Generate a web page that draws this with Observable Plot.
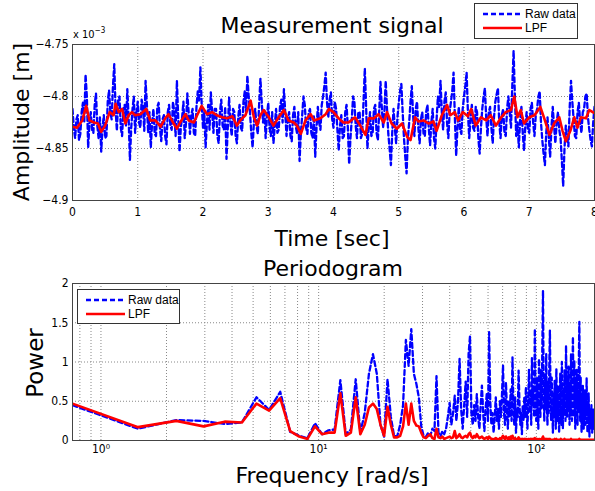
<!DOCTYPE html>
<html><head><meta charset="utf-8">
<script src="https://cdn.jsdelivr.net/npm/d3@7"></script>
<script src="https://cdn.jsdelivr.net/npm/@observablehq/plot@0.6"></script>
<style>
body{margin:0;background:#fff;}
#root{position:relative;width:595px;height:491px;overflow:hidden;background:#fff;}
#root > svg{position:absolute;left:0;}
</style>
</head><body><div id="root"></div>
<script>
// ---------- Measurement signal (amplitude in units of 1e-3 m) ----------
const dt = 0.02; // sample spacing of the raw series [sec]
const rawAmp = [
-4.812,-4.830,-4.840,-4.822,-4.818,-4.842,-4.836,-4.815,-4.806,-4.825,-4.779,-4.800,-4.849,-4.826,-4.815,-4.832,-4.835,-4.808,-4.797,-4.828,
-4.840,-4.820,-4.853,-4.830,-4.818,-4.840,-4.838,-4.805,-4.794,-4.815,-4.822,-4.790,-4.769,-4.812,-4.833,-4.803,-4.800,-4.830,-4.838,-4.812,
-4.808,-4.828,-4.793,-4.820,-4.861,-4.830,-4.812,-4.800,-4.835,-4.815,-4.805,-4.825,-4.830,-4.803,-4.810,-4.833,-4.785,-4.808,-4.835,-4.815,
-4.849,-4.825,-4.812,-4.836,-4.838,-4.810,-4.806,-4.830,-4.843,-4.822,-4.818,-4.838,-4.846,-4.815,-4.808,-4.828,-4.832,-4.805,-4.815,-4.838,
-4.785,-4.820,-4.853,-4.830,-4.820,-4.805,-4.840,-4.825,-4.797,-4.815,-4.836,-4.818,-4.812,-4.835,-4.838,-4.810,-4.795,-4.805,-4.772,-4.808,
-4.830,-4.815,-4.849,-4.825,-4.808,-4.832,-4.796,-4.815,-4.835,-4.812,-4.812,-4.838,-4.845,-4.815,-4.803,-4.828,-4.832,-4.810,-4.860,-4.830,
-4.801,-4.825,-4.838,-4.812,-4.815,-4.838,-4.845,-4.820,-4.808,-4.830,-4.833,-4.805,-4.795,-4.815,-4.780,-4.800,-4.815,-4.835,-4.849,-4.825,
-4.812,-4.828,-4.836,-4.808,-4.783,-4.805,-4.825,-4.812,-4.840,-4.820,-4.806,-4.830,-4.838,-4.815,-4.845,-4.828,-4.812,-4.835,-4.832,-4.810,
-4.803,-4.825,-4.793,-4.815,-4.838,-4.822,-4.815,-4.838,-4.843,-4.818,-4.810,-4.828,-4.835,-4.815,-4.862,-4.835,-4.818,-4.800,-4.808,-4.830,
-4.836,-4.815,-4.812,-4.835,-4.840,-4.818,-4.858,-4.830,-4.810,-4.825,-4.832,-4.808,-4.800,-4.790,-4.777,-4.805,-4.820,-4.803,-4.796,-4.822,
-4.830,-4.805,-4.812,-4.832,-4.852,-4.828,-4.818,-4.840,-4.838,-4.815,-4.808,-4.830,-4.865,-4.840,-4.822,-4.800,-4.805,-4.828,-4.840,-4.815,
-4.815,-4.840,-4.836,-4.805,-4.773,-4.810,-4.850,-4.830,-4.815,-4.838,-4.835,-4.812,-4.808,-4.835,-4.842,-4.815,-4.786,-4.810,-4.830,-4.815,
-4.785,-4.812,-4.836,-4.850,-4.866,-4.835,-4.812,-4.830,-4.845,-4.820,-4.806,-4.795,-4.788,-4.815,-4.840,-4.858,-4.874,-4.840,-4.825,-4.805,
-4.790,-4.818,-4.838,-4.812,-4.805,-4.830,-4.845,-4.822,-4.815,-4.836,-4.838,-4.815,-4.808,-4.830,-4.847,-4.825,-4.812,-4.840,-4.850,-4.822,
-4.800,-4.810,-4.785,-4.815,-4.832,-4.805,-4.796,-4.825,-4.840,-4.815,-4.805,-4.795,-4.777,-4.820,-4.857,-4.830,-4.810,-4.832,-4.836,-4.812,
-4.800,-4.790,-4.777,-4.815,-4.840,-4.822,-4.808,-4.830,-4.833,-4.810,-4.815,-4.840,-4.855,-4.830,-4.812,-4.800,-4.792,-4.820,-4.838,-4.815,
-4.810,-4.830,-4.845,-4.820,-4.805,-4.798,-4.792,-4.825,-4.840,-4.818,-4.812,-4.835,-4.838,-4.812,-4.800,-4.815,-4.830,-4.790,-4.756,-4.800,
-4.838,-4.825,-4.849,-4.822,-4.810,-4.835,-4.852,-4.828,-4.815,-4.832,-4.835,-4.812,-4.806,-4.825,-4.838,-4.818,-4.812,-4.800,-4.795,-4.825,
-4.842,-4.855,-4.866,-4.835,-4.820,-4.840,-4.858,-4.830,-4.810,-4.828,-4.845,-4.825,-4.815,-4.832,-4.840,-4.862,-4.886,-4.850,-4.828,-4.840,
-4.848,-4.810,-4.785,-4.805,-4.822,-4.838,-4.840,-4.815,-4.806,-4.825,-4.835,-4.815,-4.812,-4.800,-4.797,-4.820,-4.832,-4.842,-4.848,-4.825,
-4.810
];
const lpfTime = [0,0.07,0.15,0.21,0.26,0.33,0.39,0.44,0.50,0.57,0.63,0.66,0.71,0.76,0.81,0.86,0.91,0.96,1.04,1.13,1.19,1.27,1.35,1.42,1.47,1.55,1.60,1.65,1.73,1.78,1.86,1.91,1.98,2.06,2.14,2.21,2.29,2.37,2.45,2.52,2.57,2.65,2.73,2.78,2.83,2.88,2.93,3.01,3.08,3.16,3.24,3.31,3.39,3.44,3.50,3.57,3.65,3.70,3.80,3.88,3.93,4.00,4.08,4.15,4.23,4.33,4.41,4.49,4.54,4.62,4.69,4.77,4.82,4.89,4.97,5.05,5.13,5.18,5.25,5.30,5.38,5.46,5.53,5.58,5.66,5.74,5.79,5.86,5.91,5.98,6.06,6.11,6.18,6.26,6.34,6.41,6.49,6.57,6.64,6.72,6.77,6.82,6.87,6.92,7.00,7.08,7.17,7.23,7.31,7.38,7.46,7.51,7.56,7.63,7.69,7.74,7.79,7.87,7.92,8.00];
const lpfAmp = [-4.829,-4.830,-4.823,-4.809,-4.823,-4.825,-4.826,-4.834,-4.828,-4.815,-4.818,-4.807,-4.815,-4.812,-4.826,-4.818,-4.815,-4.818,-4.817,-4.812,-4.823,-4.823,-4.829,-4.821,-4.817,-4.826,-4.831,-4.825,-4.817,-4.823,-4.825,-4.818,-4.809,-4.817,-4.815,-4.818,-4.820,-4.821,-4.819,-4.828,-4.823,-4.818,-4.804,-4.820,-4.828,-4.818,-4.813,-4.820,-4.828,-4.820,-4.813,-4.823,-4.825,-4.828,-4.836,-4.823,-4.817,-4.823,-4.821,-4.817,-4.812,-4.815,-4.821,-4.825,-4.825,-4.820,-4.828,-4.837,-4.821,-4.821,-4.817,-4.825,-4.815,-4.826,-4.831,-4.826,-4.839,-4.842,-4.820,-4.824,-4.823,-4.826,-4.824,-4.833,-4.818,-4.808,-4.818,-4.815,-4.823,-4.815,-4.819,-4.812,-4.828,-4.820,-4.823,-4.818,-4.828,-4.820,-4.815,-4.813,-4.800,-4.820,-4.813,-4.826,-4.820,-4.818,-4.810,-4.821,-4.837,-4.826,-4.820,-4.833,-4.843,-4.833,-4.820,-4.830,-4.820,-4.821,-4.813,-4.816];
const timeTicks = [0,1,2,3,4,5,6,7,8];
const ampTicks = [-4.9,-4.85,-4.8,-4.75];

// ---------- Periodogram ----------
const df = 0.74; // frequency resolution [rad/s]; bin k is at k*df
const rawPower = [
0.45,0.15,0.26,0.25,0.21,0.23,0.55,0.39,0.62,0.11,
0.06,0.03,0.22,0.08,0.13,0.14,0.77,0.08,0.14,0.78,
0.10,0.35,0.85,1.10,0.85,0.20,0.05,0.78,0.30,0.06,
0.05,0.20,0.45,1.28,0.95,1.42,0.85,0.72,0.55,0.18,
0.06,0.04,0.10,0.06,0.15,0.12,0.82,0.10,0.05,0.12,
0.08,0.15,0.30,0.48,0.20,0.35,0.57,0.25,0.50,1.04,
0.40,0.15,0.45,0.75,0.30,1.10,1.33,0.35,0.20,0.45,
0.25,0.59,0.30,0.15,0.45,0.70,0.35,0.12,0.40,0.60,
0.25,1.38,0.50,0.20,0.35,0.10,0.30,0.55,0.25,0.40,
0.15,0.50,0.30,0.60,0.96,0.35,0.20,0.74,0.40,0.15,
0.50,0.30,0.65,0.25,1.06,0.45,0.20,0.55,0.10,0.40,
0.30,0.89,0.50,0.20,0.35,0.08,0.45,0.25,0.55,0.30,
0.68,0.40,0.15,0.50,0.90,0.35,0.60,0.20,1.05,0.45,
0.70,0.30,1.42,0.50,0.25,0.80,0.40,0.15,1.04,0.55,
0.30,0.90,0.40,1.20,1.91,0.60,0.25,0.85,0.40,1.10,
0.50,0.20,0.75,0.35,0.95,1.40,0.55,0.25,0.80,0.40,
0.10,0.60,0.30,0.76,0.45,0.15,0.91,0.50,0.25,0.70,
0.35,0.10,0.55,0.85,0.40,0.20,1.00,0.45,0.15,0.65,
0.35,0.90,0.50,0.25,1.21,0.60,0.30,0.80,0.40,0.95,
0.55,0.20,0.70,0.35,1.10,0.50,0.25,0.85,1.32,0.60,
0.30,1.02,0.45,0.15,0.75,0.40,0.90,0.50,0.20,0.65,
0.35,1.10,1.51,0.55,0.25,0.80,0.40,0.10,0.60,0.30,
0.70,0.45,0.15,0.55,0.30,0.65,0.20,0.45,0.35,0.79,
0.40,0.10,0.50,0.25,0.60,0.30,0.05,0.40,0.20,0.34,
0.15,0.45,0.25,0.10,0.35,0.20,0.40,0.15,0.30,0.20
];
const lpfPower = [
0.47,0.17,0.25,0.18,0.24,0.23,0.47,0.38,0.54,0.12,
0.05,0.02,0.18,0.08,0.10,0.10,0.60,0.06,0.10,0.55,
0.08,0.20,0.42,0.47,0.40,0.20,0.06,0.43,0.20,0.04,
0.04,0.06,0.18,0.47,0.20,0.47,0.25,0.19,0.18,0.10,
0.04,0.03,0.06,0.08,0.03,0.02,0.15,0.04,0.03,0.05,
0.02,0.03,0.04,0.05,0.03,0.04,0.12,0.03,0.05,0.08,
0.04,0.03,0.05,0.06,0.04,0.08,0.10,0.05,0.03,0.06,
0.04,0.08,0.05,0.03,0.04,0.05,0.03,0.02,0.03,0.04,
0.02,0.05,0.03,0.02,0.02,0.01,0.02,0.03,0.02,0.02,
0.01,0.03,0.02,0.04,0.06,0.03,0.02,0.05,0.03,0.02,
0.04,0.02,0.05,0.02,0.06,0.03,0.02,0.03,0.01,0.02,
0.02,0.04,0.02,0.01,0.02,0.01,0.02,0.01,0.02,0.01,
0.02,0.01,0.01,0.02,0.02,0.01,0.02,0.01,0.02,0.01,
0.02,0.01,0.03,0.02,0.01,0.02,0.01,0.01,0.02,0.02,
0.01,0.02,0.02,0.03,0.05,0.02,0.01,0.02,0.01,0.02,
0.01,0.01,0.02,0.01,0.01,0.02,0.01,0.01,0.01,0.01,
0.01,0.01,0.01,0.02,0.01,0.01,0.02,0.01,0.01,0.01,
0.01,0.01,0.01,0.01,0.02,0.01,0.01,0.01,0.01,0.01,
0.01,0.02,0.01,0.01,0.01,0.01,0.01,0.01,0.01,0.01,
0.01,0.01,0.01,0.01,0.02,0.01,0.01,0.01,0.01,0.01,
0.01,0.01,0.01,0.01,0.01,0.01,0.01,0.01,0.01,0.01,
0.01,0.01,0.02,0.01,0.01,0.01,0.01,0.01,0.01,0.01,
0.01,0.01,0.01,0.01,0.01,0.01,0.01,0.01,0.01,0.01,
0.01,0.01,0.01,0.01,0.01,0.01,0.01,0.01,0.01,0.01,
0.01,0.01,0.01,0.01,0.01,0.01,0.01,0.01,0.01,0.01
];
const freqTicks = [1, 10, 100];
const freqTickLabels = ["10\u2070", "10\u00b9", "10\u00b2"];
const freqGrid = [0.8,0.9,1,2,3,4,5,6,7,8,9,10,20,30,40,50,60,70,80,90,100];
const powerTicks = [0, 0.5, 1, 1.5, 2];

const BLUE = "#0000ff", RED = "#ff0000";
const narrow = "'Liberation Sans Narrow','DejaVu Sans Condensed',sans-serif";
const gridStyle = {stroke: "#888", strokeOpacity: 1, strokeDasharray: "1,2"};

const root = document.getElementById("root");

const topPlot = Plot.plot({
  width: 595, height: 220,
  marginLeft: 72, marginRight: 1, marginTop: 44, marginBottom: 20,
  style: {fontFamily: narrow, fontSize: "12px", background: "transparent", overflow: "visible"},
  x: {domain: [0, 8]},
  y: {domain: [-4.9, -4.75]},
  marks: [
    Plot.gridX(timeTicks.slice(1, -1), gridStyle),
    Plot.gridY(ampTicks.slice(1, -1), gridStyle),
    Plot.axisX({ticks: timeTicks, tickSize: 0, tickPadding: 7, label: null}),
    Plot.axisY({ticks: ampTicks, tickSize: 0, tickPadding: 4, label: null,
      tickFormat: d => String(d).replace("-", "\u2212")}),
    Plot.line(rawAmp, {x: (d, i) => i * dt, y: d => d, stroke: BLUE, strokeWidth: 2.3,
      strokeDasharray: "5,3", clip: true}),
    Plot.line(lpfAmp, {x: (d, i) => lpfTime[i], y: d => d, stroke: RED, strokeWidth: 2.6, clip: true}),
    Plot.frame({stroke: "#444"})
  ]
});
topPlot.style.top = "0px";
root.appendChild(topPlot);

const botPlot = Plot.plot({
  width: 595, height: 210,
  marginLeft: 72, marginRight: 1, marginTop: 33, marginBottom: 20,
  style: {fontFamily: narrow, fontSize: "12px", background: "transparent", overflow: "visible"},
  x: {type: "log", domain: [df, df * rawPower.length], axis: null},
  y: {domain: [0, 2]},
  marks: [
    Plot.gridX(freqGrid, gridStyle),
    Plot.gridY(powerTicks.slice(1, -1), gridStyle),
    Plot.text(freqTicks, {x: d => d, frameAnchor: "bottom", dy: 12,
      text: d => freqTickLabels[freqTicks.indexOf(d)], fontSize: 12}),
    Plot.axisY({ticks: powerTicks, tickSize: 0, tickPadding: 4, label: null,
      tickFormat: d => String(d)}),
    Plot.line(rawPower, {x: (d, i) => (i + 1) * df, y: d => d, stroke: BLUE, strokeWidth: 2.3,
      strokeDasharray: "5,3", clip: true}),
    Plot.line(lpfPower, {x: (d, i) => (i + 1) * df, y: d => d, stroke: RED, strokeWidth: 2.6, clip: true}),
    Plot.frame({stroke: "#444"})
  ]
});
botPlot.style.top = "250px";
root.appendChild(botPlot);

// titles, axis labels and legends
const ns = "http://www.w3.org/2000/svg";
const ov = document.createElementNS(ns, "svg");
ov.setAttribute("width", 595); ov.setAttribute("height", 491);
ov.style.top = "0px"; ov.style.pointerEvents = "none";
root.appendChild(ov);
function txt(s, x, y, opts = {}) {
  const t = document.createElementNS(ns, "text");
  t.setAttribute("x", x); t.setAttribute("y", y);
  t.setAttribute("font-family", opts.family || "'DejaVu Sans',sans-serif");
  t.setAttribute("font-size", opts.size || 22);
  t.setAttribute("text-anchor", opts.anchor || "middle");
  if (opts.rotate) t.setAttribute("transform", `rotate(-90 ${x} ${y})`);
  t.setAttribute("fill", "#000");
  t.textContent = s;
  ov.appendChild(t);
  return t;
}
function el(name, attrs) {
  const e = document.createElementNS(ns, name);
  for (const k in attrs) e.setAttribute(k, attrs[k]);
  ov.appendChild(e);
  return e;
}
txt("Measurement signal", 332, 33);
txt("Time [sec]", 332, 246);
txt("Periodogram", 333, 276);
txt("Frequency [rad/s]", 332, 483);
txt("Amplitude [m]", 29, 122, {rotate: true});
txt("Power", 43, 363, {rotate: true, size: 23});
const mult = txt("x 10", 73, 38, {size: 11, anchor: "start", family: narrow});
const sup = document.createElementNS(ns, "tspan");
sup.setAttribute("dy", -5); sup.setAttribute("font-size", 8); sup.textContent = "\u22123";
mult.appendChild(sup);

function legend(x, y, w, h) {
  el("rect", {x: x + 0.5, y: y + 0.5, width: w, height: h, fill: "#fff", stroke: "#333", "stroke-width": 1});
  const ly1 = y + 11, ly2 = y + 25;
  el("line", {x1: x + 9, x2: x + 48, y1: ly1, y2: ly1, stroke: BLUE, "stroke-width": 2.3, "stroke-dasharray": "5,3"});
  el("line", {x1: x + 9, x2: x + 48, y1: ly2, y2: ly2, stroke: RED, "stroke-width": 2.6});
  txt("Raw data", x + 51, ly1 + 4, {size: 12, anchor: "start", family: "'Liberation Sans',sans-serif"});
  txt("LPF", x + 51, ly2 + 4, {size: 12, anchor: "start", family: "'Liberation Sans',sans-serif"});
}
legend(474, 3, 103, 35);
legend(77, 289, 102, 34);
</script>
</body></html>
